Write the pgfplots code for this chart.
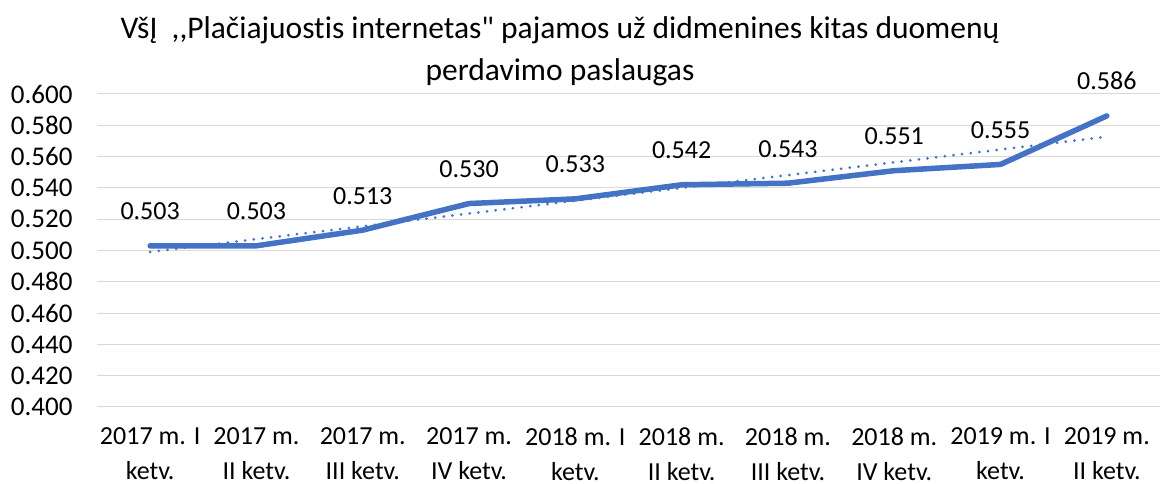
\documentclass[border=0pt]{standalone}
\usepackage{fontspec}
\setmainfont{Carlito}[Ligatures={NoCommon,TeXOff}]
\usepackage{pgfplots}
\pgfplotsset{compat=1.18}
\definecolor{lineblue}{HTML}{4472C4}
\definecolor{gridgray}{HTML}{D9D9D9}

\pgfplotstableread{
x y
1 0.503
2 0.503
3 0.513
4 0.530
5 0.533
6 0.542
7 0.543
8 0.551
9 0.555
10 0.586
}\revenue

\begin{document}
\begin{tikzpicture}[x=1pt,y=1pt]
\useasboundingbox (0,0) rectangle (1165,484);
\node[font=\fontsize{31.5}{42}\selectfont, align=center] at (560,433)
  {VšĮ\ \ ,,Plačiajuostis internetas" pajamos už didmenines kitas duomenų\\perdavimo paslaugas};
\begin{axis}[
    at={(97pt,77pt)}, anchor=south west,
    scale only axis, width=1063pt, height=313pt,
    xmin=0.5, xmax=10.5, ymin=0.4, ymax=0.6,
    axis line style={draw=none},
    tick style={draw=none},
    ytick={0.4,0.42,...,0.601},
    ymajorgrids, grid style={gridgray, line width=1pt},
    /pgf/number format/assume math mode=true,
    ticklabel style={font=\fontsize{26}{35}\selectfont},
    yticklabel style={font=\fontsize{27}{32}\selectfont, xshift=-21pt, /pgf/number format/fixed, /pgf/number format/fixed zerofill, /pgf/number format/precision=3},
    xtick={1,...,10},
    xticklabels={{2017 m. I\\ketv.},{2017 m.\\II ketv.},{2017 m.\\III ketv.},{2017 m.\\IV ketv.},{2018 m. I\\ketv.},{2018 m.\\II ketv.},{2018 m.\\III ketv.},{2018 m.\\IV ketv.},{2019 m. I\\ketv.},{2019 m.\\II ketv.}},
    xticklabel style={align=center, yshift=-17pt},
    clip=false,
  ]
  % linear trendline (least squares endpoints)
  \addplot[lineblue, line width=3pt, dash pattern=on 0pt off 8.7pt, line cap=round]
    coordinates {(1,0.4991) (10,0.5727)};
  \addplot[lineblue, line width=5.5pt, line join=round, line cap=round,
    nodes near coords, point meta=explicit symbolic,
    every node near coord/.style={font=\fontsize{26}{31}\selectfont, anchor=base, inner sep=0pt, yshift=26pt, text=black}]
    table[x=x, y=y, meta=y] {\revenue};
\end{axis}
\end{tikzpicture}
\end{document}
